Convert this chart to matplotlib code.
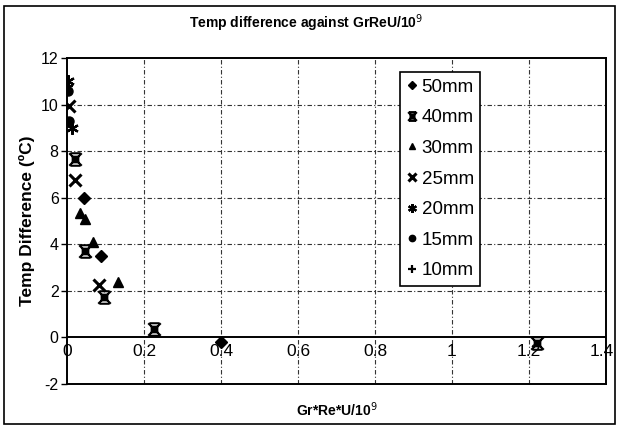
import numpy as np
import matplotlib.pyplot as plt
from matplotlib.path import Path
from matplotlib.patches import Rectangle

plt.rcParams['font.family'] = ['Liberation Sans', 'DejaVu Sans']
plt.rcParams['axes.unicode_minus'] = False

# --- data (x = Gr*Re*U/1e9, y = temp difference in C) ---
x_50 = [0.044, 0.088, 0.40]
y_50 = [6.0, 3.5, -0.2]

x_40 = [0.020, 0.047, 0.096, 0.226, 1.22]
y_40 = [7.65, 3.7, 1.75, 0.35, -0.25]

x_30 = [0.034, 0.047, 0.068, 0.132]
y_30 = [5.35, 5.1, 4.1, 2.4]

x_25 = [0.004, 0.020, 0.083]
y_25 = [9.95, 6.75, 2.25]

x_20 = [0.002, 0.013]
y_20 = [11.0, 9.0]

x_15 = [0.002, 0.004]
y_15 = [10.6, 9.3]

x_10 = [0.001]
y_10 = [10.8]

labels = ['50mm', '40mm', '30mm', '25mm', '20mm', '15mm', '10mm']
xticks = [0, 0.2, 0.4, 0.6, 0.8, 1.0, 1.2, 1.4]
xtick_labels = ['0', '0.2', '0.4', '0.6', '0.8', '1', '1.2', '1.4']
yticks = [-2, 0, 2, 4, 6, 8, 10, 12]

# excel-ish "square with star" marker: box + crossed lines
box_star = Path(
    [(-0.45, -0.45), (0.45, -0.45), (0.45, 0.45), (-0.45, 0.45), (-0.45, -0.45),
     (-1, -1), (1, 1), (-1, 1), (1, -1), (-0.8, 1), (0.8, 1), (-0.8, -1), (0.8, -1)],
    [Path.MOVETO, Path.LINETO, Path.LINETO, Path.LINETO, Path.CLOSEPOLY,
     Path.MOVETO, Path.LINETO, Path.MOVETO, Path.LINETO,
     Path.MOVETO, Path.LINETO, Path.MOVETO, Path.LINETO])

series = [
    (x_50, y_50, dict(marker='D', ms=6.5)),
    (x_40, y_40, dict(marker=box_star, ms=9, mew=1.5)),
    (x_30, y_30, dict(marker='^', ms=6.5)),
    (x_25, y_25, dict(marker='x', ms=8, mew=2.2)),
    (x_20, y_20, dict(marker=(6, 2, 0), ms=9, mew=1.6)),
    (x_15, y_15, dict(marker='o', ms=6.5)),
    (x_10, y_10, dict(marker='+', ms=8, mew=1.6)),
]

fig = plt.figure(figsize=(6.17, 4.25), dpi=100)
ax = fig.add_axes([0.1086, 0.0965, 0.8735, 0.767])

for (xs, ys, st), lab in zip(series, labels):
    ax.plot(xs, ys, ls='none', color='black', mfc='black', mec='black',
            label=lab, **st)

ax.set_xlim(0, 1.4)
ax.set_ylim(-2, 12)
ax.set_xticks(xticks)
ax.set_yticks(yticks)
ax.set_xticklabels([])
ax.tick_params(axis='x', length=0)
ax.tick_params(axis='y', direction='out', length=4, width=1, labelsize=11.5, pad=2)

# grid
for xv in xticks[1:-1]:
    ax.axvline(xv, color='#333333', lw=0.8, ls=(0, (4, 2, 1, 2)), zorder=0)
for yv in yticks[2:-1]:
    ax.axhline(yv, color='#333333', lw=0.8, ls=(0, (4, 2, 1, 2)), zorder=0)
ax.axhline(0, color='black', lw=1.4, zorder=1)

# x tick labels sit just under the y=0 axis line (last one nudged in from the edge)
for xv, tl in zip(xticks, xtick_labels):
    xpos = xv - 0.012 if xv == xticks[-1] else xv
    ax.text(xpos, -0.3, tl, ha='center', va='top', fontsize=12.5)

for sp in ax.spines.values():
    sp.set_linewidth(1.4)

ax.set_xlabel('Gr*Re*U/10$^9$', fontsize=10, fontweight='bold', labelpad=8)
ax.set_ylabel('Temp Difference (ºC)', fontsize=12.5, fontweight='bold', labelpad=4)

leg = ax.legend(loc='upper left', bbox_to_anchor=(0.618, 0.957), frameon=True,
                fancybox=False, edgecolor='black', framealpha=1,
                prop={'size': 13.5}, handlelength=0.6,
                handletextpad=0.2, labelspacing=0.72, borderpad=0.35,
                markerscale=0.7, borderaxespad=0)
leg.get_frame().set_linewidth(1.2)

fig.text(0.497, 0.945, 'Temp difference against GrReU/10$^9$', ha='center',
         va='center', fontsize=10, fontweight='bold')

fig.patches.append(Rectangle((0.006, 0.003), 0.99, 0.982, transform=fig.transFigure,
                             fill=False, lw=1.2, ec='black'))

fig.savefig('out.png', dpi=100)
